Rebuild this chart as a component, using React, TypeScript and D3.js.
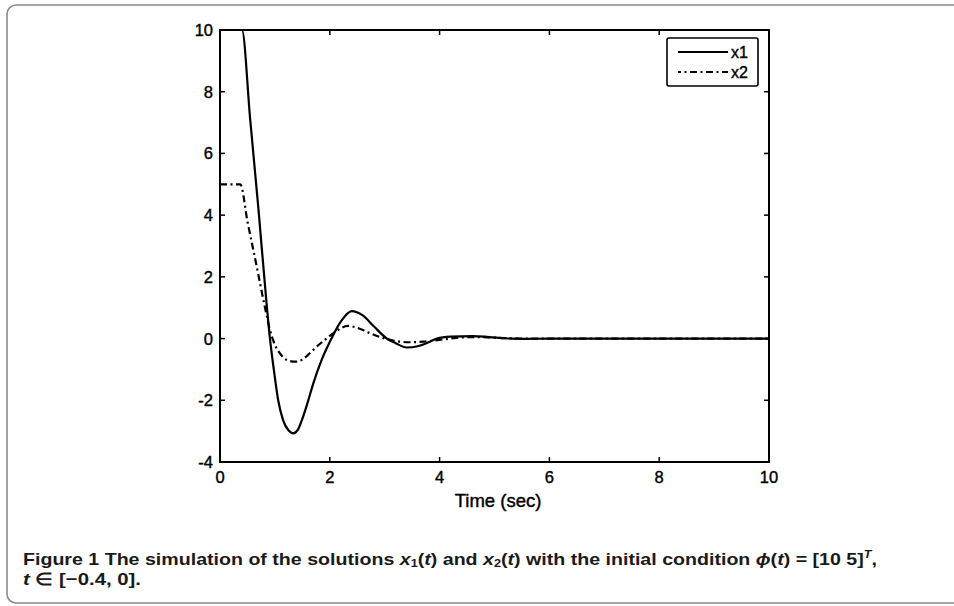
import React from "react";
import * as d3 from "d3";

const xTicks = [0, 2, 4, 6, 8, 10];
const yTicks = [-4, -2, 0, 2, 4, 6, 8, 10];

const x1T = [0, 0.4, 0.55, 0.7, 0.85, 0.91, 0.98, 1.06, 1.15, 1.25, 1.335, 1.42, 1.5, 1.6, 1.7, 1.85, 2.03, 2.2, 2.4, 2.6, 2.8, 3.04, 3.2, 3.4, 3.6, 3.8, 3.95, 4.2, 4.6, 4.9, 5.2, 5.5, 6, 10];
const x1V = [10, 10, 7.1, 4.2, 1.1, 0, -1.0, -2.0, -2.65, -2.98, -3.07, -2.95, -2.6, -2.05, -1.45, -0.7, 0, 0.55, 0.89, 0.75, 0.4, 0, -0.15, -0.29, -0.25, -0.12, 0, 0.06, 0.08, 0.05, 0.01, -0.01, 0, 0];

const x2T = [0, 0.37, 0.5, 0.65, 0.82, 0.9, 1.0, 1.1, 1.2, 1.37, 1.5, 1.65, 1.8, 1.94, 2.1, 2.33, 2.5, 2.7, 3.0, 3.2, 3.45, 3.7, 4.0, 4.3, 4.6, 5.0, 5.5, 6, 10];
const x2V = [5, 5, 3.8, 2.5, 1.0, 0.35, -0.2, -0.5, -0.68, -0.75, -0.68, -0.45, -0.2, 0, 0.22, 0.41, 0.35, 0.2, 0, -0.08, -0.12, -0.1, -0.04, 0.02, 0.05, 0.03, 0, 0, 0];

const seriesNames = ["x1", "x2"];

const W = 954;
const H = 606;
const L = 220, R = 769, T = 30, B = 462;

export default function App() {
  const x = d3.scaleLinear().domain([0, 10]).range([L, R]);
  const y = d3.scaleLinear().domain([-4, 10]).range([B, T]);
  const line = d3
    .line<[number, number]>()
    .x((d) => x(d[0]))
    .y((d) => y(d[1]))
    .curve(d3.curveMonotoneX);
  const d1 = line(x1T.map((t, i) => [t, x1V[i]] as [number, number])) || "";
  const d2 = line(x2T.map((t, i) => [t, x2V[i]] as [number, number])) || "";
  const tickFont = "Liberation Sans, Arial, Helvetica, sans-serif";
  const capFont = "'Liberation Sans Narrow', 'Liberation Sans', Arial, sans-serif";
  const dash = "7,3.5,2,3.5";
  const tl = 5;
  const tfs = 16.5;
  return (
    <svg width={W} height={H} style={{ position: "absolute", left: 0, top: 0, background: "#fff" }}>
      <rect x={7} y={5} width={1000} height={598} rx={9} fill="none" stroke="#8a8a8a" strokeWidth={1.6} />
      <defs>
        <clipPath id="plotclip">
          <rect x={L} y={T} width={R - L} height={B - T} />
        </clipPath>
      </defs>
      {xTicks.map((t) => (
        <g key={"xt" + t}>
          <line x1={x(t)} x2={x(t)} y1={B} y2={B - tl} stroke="#000" strokeWidth={1.5} />
          <line x1={x(t)} x2={x(t)} y1={T} y2={T + tl} stroke="#000" strokeWidth={1.5} />
          <text x={x(t)} y={483} textAnchor="middle" fontFamily={tickFont} fontSize={tfs} fill="#000" stroke="#000" strokeWidth={0.4}>
            {t}
          </text>
        </g>
      ))}
      {yTicks.map((t) => (
        <g key={"yt" + t}>
          <line x1={L} x2={L + tl} y1={y(t)} y2={y(t)} stroke="#000" strokeWidth={1.5} />
          <line x1={R} x2={R - tl} y1={y(t)} y2={y(t)} stroke="#000" strokeWidth={1.5} />
          <text x={213} y={y(t) + 6} textAnchor="end" fontFamily={tickFont} fontSize={tfs} fill="#000" stroke="#000" strokeWidth={0.4}>
            {t}
          </text>
        </g>
      ))}
      <g clipPath="url(#plotclip)">
        <path d={d1} fill="none" stroke="#000" strokeWidth={2.2} />
        <path d={d2} fill="none" stroke="#000" strokeWidth={2.2} strokeDasharray={dash} />
      </g>
      <rect x={L} y={T} width={R - L} height={B - T} fill="none" stroke="#000" strokeWidth={2} />
      <text x={498} y={507} textAnchor="middle" fontFamily={tickFont} fontSize={18.5} fill="#000" stroke="#000" strokeWidth={0.4}>
        Time (sec)
      </text>
      <rect x={667} y={38} width={91} height={48} rx={2} fill="#fff" stroke="#000" strokeWidth={1.6} />
      {seriesNames.map((n, i) => (
        <g key={n}>
          <line x1={678} x2={728} y1={52 + i * 20} y2={52 + i * 20} stroke="#000" strokeWidth={2.2} strokeDasharray={i === 1 ? dash : undefined} strokeDashoffset={i === 1 ? 4 : 0} />
          <text x={731} y={57.5 + i * 20} fontFamily={tickFont} fontSize={16} fill="#000" stroke="#000" strokeWidth={0.4}>
            {n}
          </text>
        </g>
      ))}
      <text x={23} y={564.5} fontFamily={capFont} fontWeight={700} fontSize={17} fill="#1a1a1a" textLength={854} lengthAdjust="spacingAndGlyphs">
        <tspan>Figure 1  The simulation of the solutions </tspan>
        <tspan fontStyle="italic">x</tspan>
        <tspan fontSize={11} dy={2.5}>1</tspan>
        <tspan dy={-2.5}>(</tspan>
        <tspan fontStyle="italic">t</tspan>
        <tspan>) and </tspan>
        <tspan fontStyle="italic">x</tspan>
        <tspan fontSize={11} dy={2.5}>2</tspan>
        <tspan dy={-2.5}>(</tspan>
        <tspan fontStyle="italic">t</tspan>
        <tspan>) with the initial condition </tspan>
        <tspan fontStyle="italic">ϕ</tspan>
        <tspan>(</tspan>
        <tspan fontStyle="italic">t</tspan>
        <tspan>) = [10 5]</tspan>
        <tspan fontStyle="italic" fontSize={11} dy={-7}>T</tspan>
        <tspan dy={7}>,</tspan>
      </text>
      <text x={23} y={585} fontFamily={capFont} fontWeight={700} fontSize={17} fill="#1a1a1a" textLength={118} lengthAdjust="spacingAndGlyphs">
        <tspan fontStyle="italic">t</tspan>
        <tspan> ∈ [−0.4, 0].</tspan>
      </text>
    </svg>
  );
}
